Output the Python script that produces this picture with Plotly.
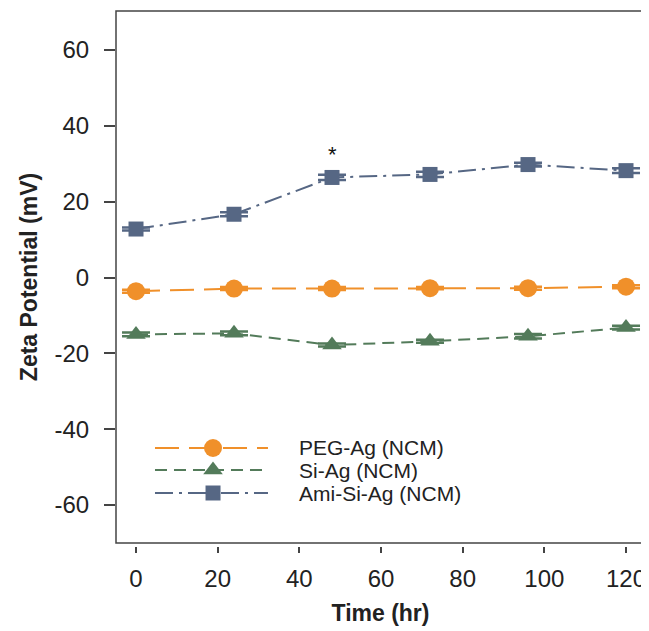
import plotly.graph_objects as go

time_hr = [0, 24, 48, 72, 96, 120]
peg_ag = [-3.6, -2.9, -2.9, -2.8, -2.8, -2.4]
peg_err = [0.4, 0.4, 0.4, 0.3, 0.4, 0.4]
si_ag = [-15.0, -14.7, -17.8, -16.8, -15.5, -13.2]
si_err = [0.5, 0.5, 0.4, 0.4, 0.6, 0.5]
ami_si_ag = [12.8, 16.7, 26.4, 27.2, 29.8, 28.2]
ami_err = [0.4, 0.5, 0.7, 0.7, 0.5, 0.6]

series_names = ["PEG-Ag (NCM)", "Si-Ag (NCM)", "Ami-Si-Ag (NCM)"]
x_ticks = [0, 20, 40, 60, 80, 100, 120]
y_ticks = [-60, -40, -20, 0, 20, 40, 60]
y_ticktext = [str(v) for v in y_ticks]

star_x, star_y = 48, 32.5

C_PEG = "#F0902A"
C_SI = "#537B5A"
C_AMI = "#566784"
DASH_PEG = "24px,10px"
DASH_SI = "12px,7px"
DASH_AMI = "18px,6px,3px,6px"

fig = go.Figure()

specs = [
    (peg_ag, peg_err, series_names[0], C_PEG, DASH_PEG, "circle", 18),
    (si_ag, si_err, series_names[1], C_SI, DASH_SI, "triangle-up", 17),
    (ami_si_ag, ami_err, series_names[2], C_AMI, DASH_AMI, "square", 15),
]
for ys, es, name, col, dash, sym, sz in specs:
    fig.add_trace(go.Scatter(
        x=time_hr, y=ys, name=name, mode="lines+markers",
        line=dict(color=col, width=2, dash=dash),
        marker=dict(color=col, symbol=sym, size=sz),
        error_y=dict(type="data", array=es, visible=True, color=col, thickness=2.5, width=14),
        showlegend=False,
    ))

# Custom legend drawn on an overlay [0,1] axis
leg_x0, leg_x1, leg_xm = 0.0737, 0.2873, 0.1834
leg_rows = [0.1786, 0.1372, 0.094]
for (ys, es, name, col, dash, sym, sz), ry in zip(specs, leg_rows):
    fig.add_trace(go.Scatter(
        x=[leg_x0, leg_xm, leg_x1], y=[ry, ry, ry], mode="lines",
        line=dict(color=col, width=2, dash=dash), xaxis="x2", yaxis="y2",
        showlegend=False, hoverinfo="skip"))
    fig.add_trace(go.Scatter(
        x=[leg_xm], y=[ry], mode="markers",
        marker=dict(color=col, symbol=sym, size=sz),
        xaxis="x2", yaxis="y2", showlegend=False, hoverinfo="skip"))
    fig.add_annotation(x=0.342, y=ry, xref="x2", yref="y2", text=name,
                       showarrow=False, xanchor="left", yanchor="middle",
                       font=dict(size=21, color="#222"))

fig.add_annotation(x=star_x, y=star_y, text="*", showarrow=False,
                   font=dict(size=22, color="#111"), yanchor="middle")

font_fam = "Liberation Sans, Arial, sans-serif"
fig.update_layout(
    width=641, height=623,
    margin=dict(l=108, r=4, t=3, b=85),
    paper_bgcolor="white", plot_bgcolor="white",
    font=dict(family=font_fam, color="#222"),
    xaxis=dict(range=[-4.9, 124.65], tickvals=x_ticks, ticks="outside", ticklen=6,
               tickwidth=1.5, tickcolor="#444", showline=False, showgrid=False,
               zeroline=False, anchor="free", position=0,
               tickfont=dict(size=24), ticklabelstandoff=5,
               title=dict(text="<b>Time (hr)</b>", font=dict(size=23), standoff=14)),
    yaxis=dict(range=[-70.0, 70.3], domain=[0.0056, 1], tickvals=y_ticks, ticktext=y_ticktext,
               ticks="outside", ticklen=11, tickwidth=1.5, tickcolor="#444",
               showline=False, showgrid=False, zeroline=False,
               tickfont=dict(size=24), ticklabelstandoff=10,
               title=dict(text="<b>Zeta Potential (mV)</b>", font=dict(size=23), standoff=10)),
    xaxis2=dict(range=[0, 1], overlaying="x", visible=False, anchor="y2"),
    yaxis2=dict(range=[0, 1], domain=[0.0056, 1], overlaying="y", visible=False, anchor="x2"),
    shapes=[dict(type="rect", xref="x domain", yref="y domain", x0=0, x1=1, y0=0, y1=1,
                 line=dict(color="#444", width=1.5), layer="above")],
)

fig.write_html("out.html")
